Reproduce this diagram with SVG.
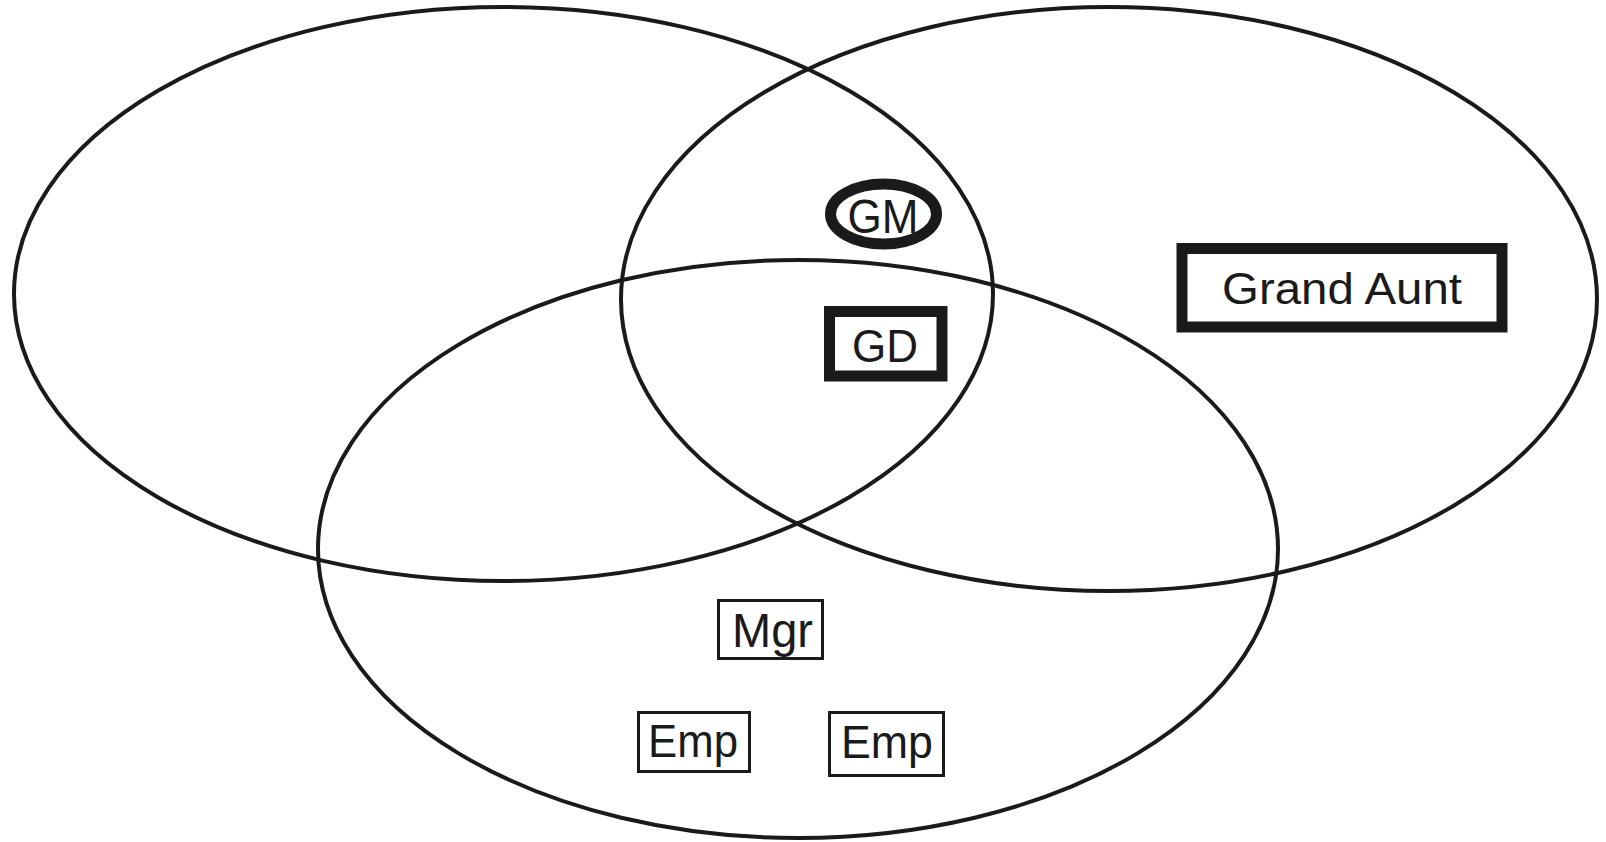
<svg xmlns="http://www.w3.org/2000/svg" width="1606" height="842" viewBox="0 0 1606 842">
<style>
.set{fill:none;stroke:#1a1a1a;stroke-width:4}
.thick{fill:#fff;stroke:#1a1a1a;stroke-width:11}
.thin{fill:#fff;stroke:#1a1a1a;stroke-width:3}
text{font-family:"Liberation Sans",Arial,sans-serif;fill:#1a1a1a;text-anchor:middle}
</style>
<rect width="1606" height="842" fill="#fff"/>
<g id="sets">
<ellipse id="set-left" class="set" cx="503.5" cy="294" rx="489.5" ry="287"/>
<ellipse id="set-right" class="set" cx="1109" cy="299" rx="488" ry="292"/>
<ellipse id="set-bottom" class="set" cx="798" cy="549" rx="480" ry="289"/>
</g>
<g id="node-gm">
<ellipse class="thick" cx="883.5" cy="214" rx="53" ry="30"/>
<text x="883" y="233" font-size="48" textLength="71" lengthAdjust="spacingAndGlyphs">GM</text>
</g>
<g id="node-gd">
<rect class="thick" x="829.5" y="311.5" width="112.5" height="64.5"/>
<text x="885" y="362" font-size="46" textLength="66" lengthAdjust="spacingAndGlyphs">GD</text>
</g>
<g id="node-grand-aunt">
<rect class="thick" x="1182" y="248.5" width="320" height="78.5"/>
<text x="1342" y="304" font-size="45" textLength="240" lengthAdjust="spacingAndGlyphs">Grand Aunt</text>
</g>
<g id="node-mgr">
<rect class="thin" x="718.5" y="600.5" width="104" height="58"/>
<text x="772.5" y="647" font-size="48" textLength="81" lengthAdjust="spacingAndGlyphs">Mgr</text>
</g>
<g id="node-emp1">
<rect class="thin" x="638.5" y="712.5" width="111" height="59"/>
<text x="693" y="757" font-size="46" textLength="90" lengthAdjust="spacingAndGlyphs">Emp</text>
</g>
<g id="node-emp2">
<rect class="thin" x="829.5" y="712.5" width="114" height="63"/>
<text x="887" y="758" font-size="46" textLength="92" lengthAdjust="spacingAndGlyphs">Emp</text>
</g>
<g id="connectors"></g>
</svg>
